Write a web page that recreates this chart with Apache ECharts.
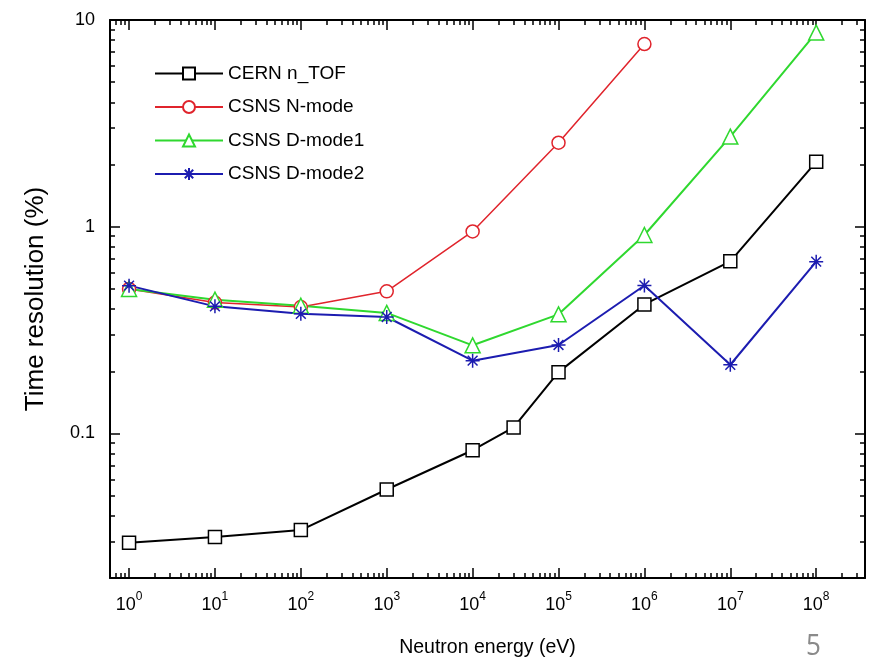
<!DOCTYPE html>
<html><head><meta charset="utf-8">
<script src="https://cdn.jsdelivr.net/npm/echarts@6/dist/echarts.min.js"></script>
<style>html,body{margin:0;padding:0;background:#fff}#c{width:871px;height:663px}</style>
</head><body><div id="c"></div>
<script>
// ---- data ----
const seriesNames = ['CERN n_TOF', 'CSNS N-mode', 'CSNS D-mode1', 'CSNS D-mode2'];
const energyCERN = [1, 10, 100, 1000, 1e4, 3e4, 1e5, 1e6, 1e7, 1e8];
const resCERN    = [0.0296, 0.0316, 0.0341, 0.0536, 0.083, 0.107, 0.198, 0.421, 0.68, 2.06];
const energyNmode = [1, 10, 100, 1000, 1e4, 1e5, 1e6];
const resNmode    = [0.50, 0.43, 0.409, 0.487, 0.949, 2.55, 7.65];
const energyD1 = [1, 10, 100, 1000, 1e4, 1e5, 1e6, 1e7, 1e8];
const resD1    = [0.50, 0.444, 0.415, 0.383, 0.267, 0.377, 0.912, 2.73, 8.69];
const energyD2 = [1, 10, 100, 1000, 1e4, 1e5, 1e6, 1e7, 1e8];
const resD2    = [0.519, 0.412, 0.379, 0.366, 0.225, 0.268, 0.52, 0.215, 0.678];
const xTickExponents = [0, 1, 2, 3, 4, 5, 6, 7, 8];
const yTickLabels = ['0.1', '1', '10'];
const yTickValues = [0.1, 1, 10];
const xMin = 0.6, xMax = 3.7e8, yMin = 0.02, yMax = 10;

// ---- helpers ----
const L = Math.log10;
function minors(lo, hi, kFrom, kTo) {
  const out = [];
  for (let k = kFrom; k <= kTo; k++) for (let m = 2; m <= 9; m++) {
    const v = m * Math.pow(10, k);
    if (v > lo && v < hi) out.push(L(v));
  }
  return out;
}
const xMinorLog = minors(xMin, xMax, -1, 8);
const yMinorLog = minors(yMin, yMax, -2, 1);
const xMajorLog = xTickExponents.slice();
const yMajorLog = yTickValues.map(L);
const FONT = 'Liberation Sans';

function pairs(xs, ys) { return xs.map((x, i) => [x, ys[i]]); }

function xOverlay(pos, vals, len, withLabels) {
  return {
    type: 'value', position: pos, min: L(xMin), max: L(xMax), gridIndex: 0,
    axisLine: { show: false, onZero: false },
    axisTick: { show: true, inside: true, length: len, customValues: vals, lineStyle: { color: '#000', width: 1.5 } },
    axisLabel: withLabels ? {
      show: true, customValues: xMajorLog, margin: 13,
      formatter: v => '{b|10}{s|' + Math.round(v) + '}',
      rich: {
        b: { fontSize: 18, fontFamily: FONT, color: '#000', lineHeight: 23, verticalAlign: 'bottom' },
        s: { fontSize: 12, fontFamily: FONT, color: '#000', lineHeight: 12, verticalAlign: 'top' }
      }
    } : { show: false },
    splitLine: { show: false }
  };
}
function yOverlay(pos, vals, len, withLabels) {
  return {
    type: 'value', position: pos, min: L(yMin), max: L(yMax), gridIndex: 0,
    axisLine: { show: false, onZero: false },
    axisTick: { show: true, inside: true, length: len, customValues: vals, lineStyle: { color: '#000', width: 1.5 } },
    axisLabel: withLabels ? {
      show: true, customValues: yMajorLog, margin: 15,
      formatter: v => yTickLabels[yMajorLog.findIndex(t => Math.abs(t - v) < 1e-6)] || '',
      fontSize: 18, fontFamily: FONT, color: '#000'
    } : { show: false },
    splitLine: { show: false }
  };
}
const border = { show: true, onZero: false, lineStyle: { color: '#000', width: 2 } };

const chart = echarts.init(document.getElementById('c'));
const asterisk = 'path://M10,0L10,20M0,10L20,10M3,3L17,17M17,3L3,17';

const option = {
  animation: false,
  backgroundColor: '#fff',
  grid: { left: 110, top: 20, right: 6, bottom: 85, containLabel: false },
  xAxis: [
    { type: 'log', logBase: 10, min: xMin, max: xMax, position: 'bottom',
      axisLine: border,
      axisTick: { show: false }, axisLabel: { show: false }, splitLine: { show: false },
      name: 'Neutron energy (eV)', nameLocation: 'middle', nameGap: 60,
      nameTextStyle: { fontSize: 19.5, fontFamily: FONT, color: '#000' } },
    xOverlay('bottom', xMajorLog, 10, true),
    xOverlay('bottom', xMinorLog, 5, false),
    Object.assign(xOverlay('top', xMajorLog, 10, false), { axisLine: border }),
    xOverlay('top', xMinorLog, 5, false)
  ],
  yAxis: [
    { type: 'log', logBase: 10, min: yMin, max: yMax, position: 'left',
      axisLine: border,
      axisTick: { show: false }, axisLabel: { show: false }, splitLine: { show: false },
      name: 'Time resolution (%)', nameLocation: 'middle', nameGap: 61, nameRotate: 90,
      nameTextStyle: { fontSize: 26, fontFamily: FONT, color: '#000' } },
    yOverlay('left', yMajorLog, 10, true),
    yOverlay('left', yMinorLog, 5, false),
    Object.assign(yOverlay('right', yMajorLog, 10, false), { axisLine: border }),
    yOverlay('right', yMinorLog, 5, false)
  ],
  legend: {
    orient: 'vertical', left: 149, top: 59, itemWidth: 68, itemHeight: 15, itemGap: 14.5,
    textStyle: { fontSize: 19, fontFamily: FONT, color: '#000', padding: [0, 0, 0, 0] },
    data: seriesNames
  },
  series: [
    { name: seriesNames[0], type: 'line', data: pairs(energyCERN, resCERN),
      symbol: 'rect', symbolSize: 13, showAllSymbol: true,
      lineStyle: { color: '#000', width: 2 },
      itemStyle: { color: '#fff', borderColor: '#000', borderWidth: 1.5 } },
    { name: seriesNames[1], type: 'line', data: pairs(energyNmode, resNmode),
      symbol: 'circle', symbolSize: 13, showAllSymbol: true,
      lineStyle: { color: '#e0242c', width: 1.5 },
      itemStyle: { color: '#fff', borderColor: '#e0242c', borderWidth: 1.5 } },
    { name: seriesNames[2], type: 'line', data: pairs(energyD1, resD1),
      symbol: 'triangle', symbolSize: 15, showAllSymbol: true,
      lineStyle: { color: '#2fd82f', width: 2 },
      itemStyle: { color: '#fff', borderColor: '#2fd82f', borderWidth: 1.5 } },
    { name: seriesNames[3], type: 'line', data: pairs(energyD2, resD2),
      symbol: asterisk, symbolSize: 14, showAllSymbol: true,
      lineStyle: { color: '#1c1cb0', width: 2 },
      itemStyle: { color: 'rgba(0,0,0,0)', borderColor: '#1c1cb0', borderWidth: 1.5 } }
  ],
  graphic: [
    { type: 'text', left: 806, top: 632, scaleY: 1.15, style: { text: '5', fontSize: 26, fontFamily: 'Open Sans', fill: '#8a8a8a' } }
  ]
};
chart.setOption(option);
</script>
</body></html>
